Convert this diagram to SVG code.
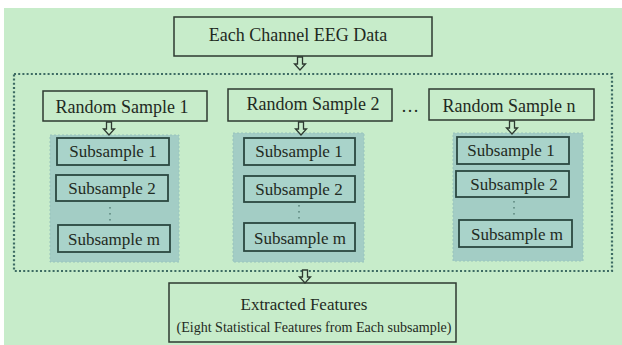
<svg xmlns="http://www.w3.org/2000/svg" xmlns:xlink="http://www.w3.org/1999/xlink" width="622" height="345" viewBox="0 0 622 345">
  <style>
    .bg { fill: #c7ecca; }
    .box { fill: #c7ecca; stroke: #2e3a31; stroke-width: 1.5; }
    .panel { fill: #a3cdc5; stroke: #98c4bc; stroke-width: 1; stroke-dasharray: 2 2; }
    .sub { fill: #a9d3ca; stroke: #2b4740; stroke-width: 1.8; }
    .frame { fill: none; stroke: #3d6b63; stroke-width: 2.2; stroke-dasharray: 2 2.2; }
    .t { font-family: "Liberation Serif", "Times New Roman", serif; fill: #1f2a22; text-anchor: middle; }
    .big { font-size: 18px; }
    .mid { font-size: 17px; }
    .small { font-size: 14.5px; }
    .vdots { fill: #5f8a80; }
    .arrow { fill: #c7ecca; stroke: #2e3a31; stroke-width: 1.3; stroke-linejoin: miter; }
  </style>
  <defs>
    <!-- hollow block arrow pointing down, tip at (0,13) -->
    <polygon id="downArrow" class="arrow" points="-2.5,0 2.5,0 2.5,7 5.5,7 0,13 -5.5,7 -2.5,7"/>
    <!-- three small dots stacked vertically -->
    <g id="vEllipsis" class="vdots">
      <rect x="-0.8" y="0" width="1.6" height="1.6"/>
      <rect x="-0.8" y="6" width="1.6" height="1.6"/>
      <rect x="-0.8" y="12" width="1.6" height="1.6"/>
    </g>
  </defs>

  <!-- canvas -->
  <rect class="bg" x="4" y="8" width="618" height="337"/>

  <!-- dotted grouping frame around the sampling stage -->
  <rect id="sampling-frame" class="frame" x="14" y="74" width="598" height="197"/>

  <g id="source">
    <rect class="box" x="174" y="17" width="258" height="39"/>
    <text class="t big" x="298" y="41">Each Channel EEG Data</text>
  </g>

  <g id="random-sample-1">
    <rect class="box" x="43" y="91" width="164" height="30"/>
    <text class="t big" x="122" y="113">Random Sample 1</text>
  </g>
  <g id="random-sample-2">
    <rect class="box" x="228" y="89" width="164" height="32"/>
    <text class="t big" x="313" y="110">Random Sample 2</text>
  </g>
  <text id="samples-ellipsis" class="t big" x="410" y="112">…</text>
  <g id="random-sample-n">
    <rect class="box" x="429" y="89" width="165" height="31"/>
    <text class="t big" x="509" y="112">Random Sample n</text>
  </g>

  <!-- subsample column 1 -->
  <g id="subsamples-1">
    <rect class="panel" x="50" y="135" width="129" height="127"/>
    <rect class="sub" x="57" y="138" width="112" height="27"/>
    <text class="t mid" x="113" y="157">Subsample 1</text>
    <rect class="sub" x="56" y="175" width="112" height="26"/>
    <text class="t mid" x="112" y="194">Subsample 2</text>
    <use xlink:href="#vEllipsis" x="110" y="207"/>
    <rect class="sub" x="58" y="225" width="112" height="27"/>
    <text class="t mid" x="114" y="245">Subsample m</text>
  </g>

  <!-- subsample column 2 -->
  <g id="subsamples-2">
    <rect class="panel" x="233" y="133" width="131" height="129"/>
    <rect class="sub" x="244" y="138" width="111" height="27"/>
    <text class="t mid" x="299" y="157">Subsample 1</text>
    <rect class="sub" x="244" y="176" width="111" height="26"/>
    <text class="t mid" x="299" y="195">Subsample 2</text>
    <use xlink:href="#vEllipsis" x="299" y="205"/>
    <rect class="sub" x="244" y="223" width="111" height="28"/>
    <text class="t mid" x="300" y="244">Subsample m</text>
  </g>

  <!-- subsample column n -->
  <g id="subsamples-n">
    <rect class="panel" x="453" y="133" width="130" height="128"/>
    <rect class="sub" x="457" y="137" width="112" height="27"/>
    <text class="t mid" x="511" y="156">Subsample 1</text>
    <rect class="sub" x="456" y="171" width="113" height="26"/>
    <text class="t mid" x="514" y="190">Subsample 2</text>
    <use xlink:href="#vEllipsis" x="514" y="201"/>
    <rect class="sub" x="459" y="220" width="113" height="27"/>
    <text class="t mid" x="517" y="240">Subsample m</text>
  </g>

  <g id="features">
    <rect class="box" x="169" y="283" width="287" height="59"/>
    <text class="t mid" x="304" y="310">Extracted  Features</text>
    <text class="t small" x="314" y="332" textLength="275" lengthAdjust="spacingAndGlyphs">(Eight Statistical Features from Each subsample)</text>
  </g>

  <!-- connectors -->
  <g id="connectors">
    <use xlink:href="#downArrow" x="300" y="57"/>
    <use xlink:href="#downArrow" x="109" y="122"/>
    <use xlink:href="#downArrow" x="301" y="122"/>
    <use xlink:href="#downArrow" x="512" y="121"/>
    <use xlink:href="#downArrow" x="305" y="270"/>
  </g>
</svg>
